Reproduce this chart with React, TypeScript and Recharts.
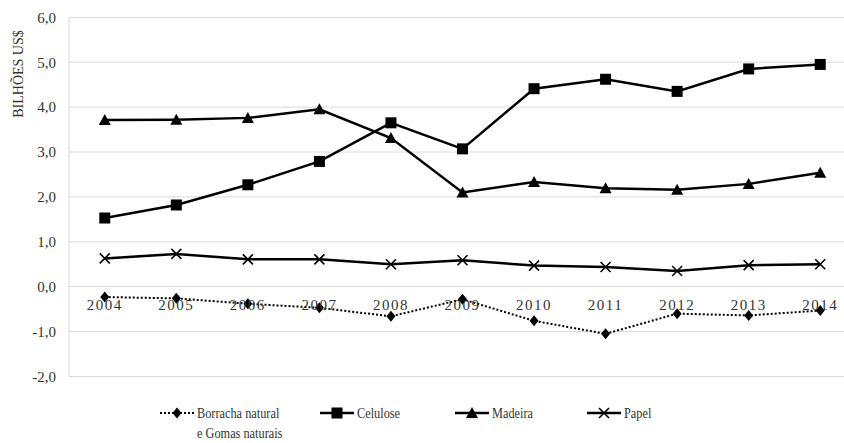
import React from "react";
import {
  LineChart,
  Line,
  XAxis,
  YAxis,
  CartesianGrid,
  Legend,
} from "recharts";

const years = ["2004", "2005", "2006", "2007", "2008", "2009", "2010", "2011", "2012", "2013", "2014"];
const borracha = [-0.23, -0.26, -0.38, -0.47, -0.66, -0.28, -0.76, -1.05, -0.6, -0.64, -0.53];
const celulose = [1.53, 1.82, 2.27, 2.79, 3.65, 3.07, 4.41, 4.62, 4.35, 4.85, 4.95];
const madeira = [3.71, 3.72, 3.76, 3.95, 3.31, 2.1, 2.33, 2.19, 2.16, 2.29, 2.54];
const papel = [0.63, 0.73, 0.61, 0.61, 0.5, 0.59, 0.47, 0.44, 0.35, 0.48, 0.5];
const yTicks = [-2, -1, 0, 1, 2, 3, 4, 5, 6];

const data = years.map((year, i) => ({
  year,
  borracha: borracha[i],
  celulose: celulose[i],
  madeira: madeira[i],
  papel: papel[i],
}));

const FONT = "Liberation Serif";
const INK = "#000";
const TEXT = "#333";

// marker shapes
const diamond = (cx: number, cy: number, key?: any) => (
  <path key={key} d={`M${cx},${cy - 5.5}L${cx + 4.5},${cy}L${cx},${cy + 5.5}L${cx - 4.5},${cy}Z`} fill={INK} />
);
const square = (cx: number, cy: number, key?: any) => (
  <rect key={key} x={cx - 5.5} y={cy - 5.5} width={11} height={11} fill={INK} />
);
const triangle = (cx: number, cy: number, key?: any) => (
  <path key={key} d={`M${cx},${cy - 6}L${cx + 6},${cy + 5}L${cx - 6},${cy + 5}Z`} fill={INK} />
);
const cross = (cx: number, cy: number, key?: any) => (
  <path key={key} d={`M${cx - 5},${cy - 5}L${cx + 5},${cy + 5}M${cx + 5},${cy - 5}L${cx - 5},${cy + 5}`} stroke={INK} strokeWidth={1.6} fill="none" />
);

const dotOf = (shape: (cx: number, cy: number, key?: any) => React.ReactElement) => (props: any) =>
  shape(props.cx, props.cy, `d-${props.index}`);

// year labels sit just under the zero line, not at the bottom of the plot
const YearTick = (props: any) => {
  const { x, y, payload } = props;
  return (
    <text x={x} y={y - 66.5} textAnchor="middle" style={{ fontFamily: FONT }} fontSize={15} fill={TEXT} letterSpacing={1.5}>
      {payload.value}
    </text>
  );
};

const legendItems = [
  { name: ["Borracha natural", "e Gomas naturais"], shape: diamond, dashed: true, left: 160 },
  { name: ["Celulose"], shape: square, dashed: false, left: 320 },
  { name: ["Madeira"], shape: triangle, dashed: false, left: 455 },
  { name: ["Papel"], shape: cross, dashed: false, left: 587 },
];

const renderLegend = () => (
  <div style={{ position: "relative", width: 844, height: 40, fontFamily: FONT, fontSize: 15, color: TEXT }}>
    {legendItems.map((item) => (
      <div key={item.name[0]} style={{ position: "absolute", left: item.left, top: 6, display: "flex", alignItems: "flex-start" }}>
        <svg width={34} height={16} style={{ marginTop: 2 }}>
          <line
            x1={0}
            y1={8}
            x2={34}
            y2={8}
            stroke={INK}
            strokeWidth={item.dashed ? 2 : 2.5}
            strokeDasharray={item.dashed ? "2 2" : undefined}
          />
          {item.shape(17, 8)}
        </svg>
        <div style={{ marginLeft: 3, lineHeight: "20px", transform: "scaleX(0.82)", transformOrigin: "left top", whiteSpace: "nowrap" }}>
          {item.name.map((n) => (
            <div key={n}>{n}</div>
          ))}
        </div>
      </div>
    ))}
  </div>
);

export default function App() {
  return (
    <div style={{ position: "absolute", left: 0, top: 0, width: 844, height: 443, overflow: "hidden", background: "#fff", fontFamily: FONT }}>
      <LineChart width={860} height={443} data={data} margin={{ top: 17.3, right: 4, bottom: 6.5, left: 0 }} style={{ fontFamily: FONT }}>
        <CartesianGrid vertical={false} stroke="#d9d9d9" />
        <XAxis
          dataKey="year"
          scale="band"
          axisLine={false}
          tickLine={false}
          tickSize={0}
          tickMargin={0}
          height={20}
          interval={0}
          tick={<YearTick />}
        />
        <YAxis
          domain={[-2, 6]}
          ticks={yTicks}
          width={69}
          axisLine={{ stroke: "#d9d9d9" }}
          tickLine={false}
          tickMargin={7}
          tick={{ fontFamily: FONT, fontSize: 15, fill: TEXT }}
          tickFormatter={(v: number) => v.toFixed(1).replace(".", ",")}
          label={{
            content: () => (
              <text
                x={18}
                y={74}
                transform="rotate(-90 18 74)"
                textAnchor="middle"
                dominantBaseline="central"
                style={{ fontFamily: FONT }}
                fontSize={14}
                fill={TEXT}
              >
                BILHÕES US$
              </text>
            ),
          }}
        />
        <Legend verticalAlign="bottom" content={renderLegend} wrapperStyle={{ left: 0, width: 844 }} />
        <Line
          dataKey="borracha"
          stroke={INK}
          strokeWidth={2}
          strokeDasharray="2 2"
          dot={dotOf(diamond)}
          activeDot={false}
          isAnimationActive={false}
        />
        <Line dataKey="celulose" stroke={INK} strokeWidth={2.5} dot={dotOf(square)} activeDot={false} isAnimationActive={false} />
        <Line dataKey="madeira" stroke={INK} strokeWidth={2.5} dot={dotOf(triangle)} activeDot={false} isAnimationActive={false} />
        <Line dataKey="papel" stroke={INK} strokeWidth={2.5} dot={dotOf(cross)} activeDot={false} isAnimationActive={false} />
      </LineChart>
    </div>
  );
}
